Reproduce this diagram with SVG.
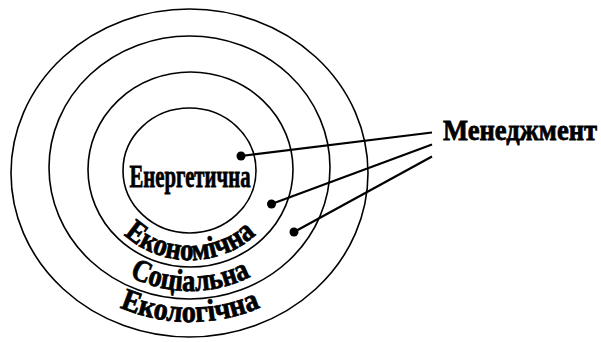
<svg xmlns="http://www.w3.org/2000/svg" width="601" height="342" viewBox="0 0 601 342">
<style>
.ring{fill:none;stroke:#000;stroke-width:1.6}
.lbl{font-family:"Liberation Serif","Times New Roman",serif;font-weight:bold;fill:#000;stroke:#000;stroke-width:0.8}
.conn{stroke:#000;stroke-width:2.2;fill:none}
.dot{fill:#000}
</style>
<defs>
<path id="arcEkonom" d="M95,170 A95,90 0 0 0 285,170"/>
<path id="arcSoc" d="M62,170 A128,121 0 0 0 318,170"/>
<path id="arcEkol" d="M25,170 A165,152 0 0 0 355,170"/>
</defs>
<g id="ring-ecology"><ellipse class="ring" cx="189.5" cy="173" rx="178.5" ry="164"/>
<text class="lbl" font-size="31"><textPath href="#arcEkol" startOffset="50%" text-anchor="middle" textLength="145" lengthAdjust="spacingAndGlyphs">Екологічна</textPath></text></g>
<g id="ring-social"><ellipse class="ring" cx="189.5" cy="167.5" rx="140.5" ry="131.5"/>
<text class="lbl" font-size="31"><textPath href="#arcSoc" startOffset="50%" text-anchor="middle" textLength="126" lengthAdjust="spacingAndGlyphs">Соціальна</textPath></text></g>
<g id="ring-economic"><ellipse class="ring" cx="190.5" cy="169.5" rx="102.5" ry="97.5"/>
<text class="lbl" font-size="31"><textPath href="#arcEkonom" startOffset="50%" text-anchor="middle" textLength="145" lengthAdjust="spacingAndGlyphs">Економічна</textPath></text></g>
<g id="ring-energy"><ellipse class="ring" cx="189.5" cy="170.5" rx="66.5" ry="62.5"/>
<text class="lbl" x="190" y="187" font-size="32" text-anchor="middle" textLength="121" lengthAdjust="spacingAndGlyphs">Енергетична</text></g>
<g id="management"><text class="lbl" transform="scale(0.88 1)" x="503.4" y="140" font-size="30" textLength="175" lengthAdjust="spacingAndGlyphs">Менеджмент</text></g>
<g id="connectors">
<line class="conn" x1="241" y1="156" x2="432" y2="132.5"/>
<line class="conn" x1="271.5" y1="204" x2="432" y2="144.5"/>
<line class="conn" x1="294" y1="232" x2="432" y2="156.5"/>
<circle class="dot" cx="241" cy="156" r="4.5"/>
<circle class="dot" cx="271.5" cy="204" r="4.5"/>
<circle class="dot" cx="294" cy="232" r="4.5"/>
</g>
</svg>
